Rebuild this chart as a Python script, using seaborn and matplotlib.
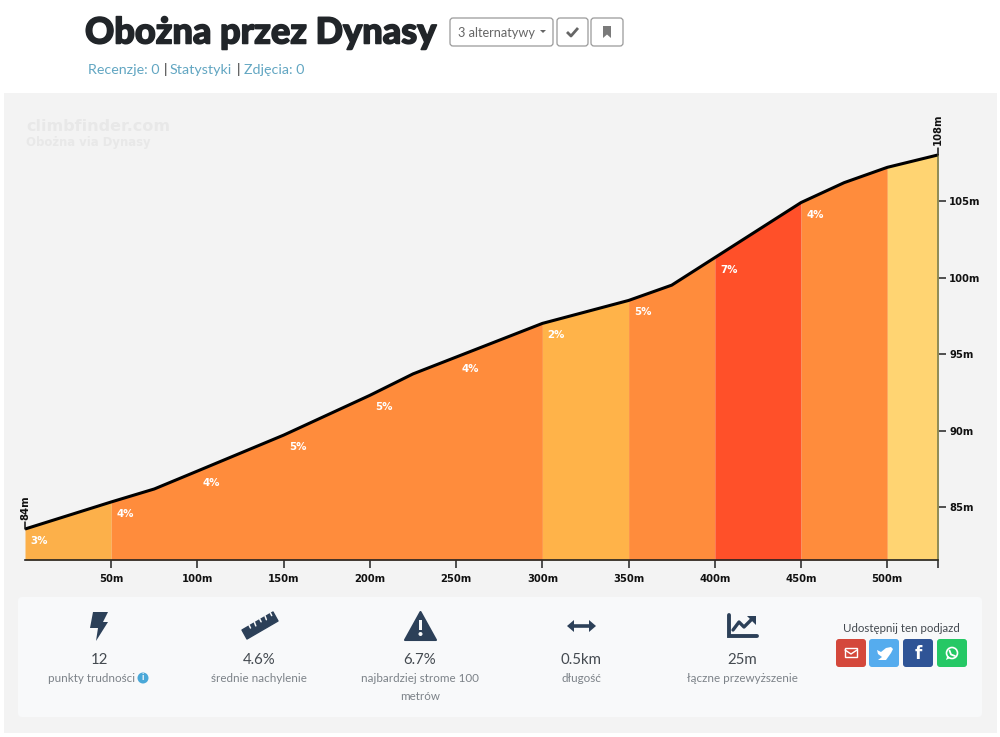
import matplotlib
matplotlib.use('Agg')
import matplotlib.pyplot as plt
import matplotlib.patheffects as pe
import numpy as np
import pandas as pd
import seaborn as sns
from matplotlib.patches import Circle, FancyBboxPatch, Polygon, Rectangle

# Profil podjazdu
distance = [0, 50, 75, 100, 150, 200, 225, 250, 300, 350, 375, 400, 450, 475, 500, 529]
elevation = [83.56, 85.33, 86.18, 87.35, 89.7, 92.3, 93.7, 94.8, 97.0, 98.5, 99.5, 101.3,
             104.9, 106.2, 107.2, 108.0]

seg_start = [0, 50, 300, 350, 400, 450, 500]
seg_end = [50, 300, 350, 400, 450, 500, 529]
seg_colors = ['#fcb04a', '#ff8c3c', '#ffb349', '#ff8c3c', '#ff5029', '#ff8c3c', '#ffd472']

grade_at = [0, 50, 100, 150, 200, 250, 300, 350, 400, 450]
grade_labels = ['3%', '4%', '4%', '5%', '5%', '4%', '2%', '5%', '7%', '4%']

x_ticks = [50, 100, 150, 200, 250, 300, 350, 400, 450, 500]
y_ticks = [85, 90, 95, 100, 105]

stat_values = ['12', '4.6%', '6.7%', '0.5km', '25m']
stat_names = ['punkty trudności', 'średnie nachylenie', 'najbardziej strome 100', 'długość', 'łączne przewyższenie']
stat_centers = [99, 259, 420, 581, 742]

sns.set_theme(style='white')
plt.rcParams['font.family'] = ['Lato', 'DejaVu Sans']

W, H = 1000, 737
fig = plt.figure(figsize=(10, 7.37), dpi=100, facecolor='white')

# Warstwa strony, w pikselach
bg = fig.add_axes([0, 0, 1, 1], zorder=0)
bg.set_xlim(0, W)
bg.set_ylim(H, 0)
bg.axis('off')
bg.add_patch(Rectangle((4, 93), 993, 640, fc='#f3f3f3', ec='none'))
bg.add_patch(FancyBboxPatch((18, 597), 964, 120, boxstyle='round,pad=0,rounding_size=4', fc='#f8f9fa', ec='none'))

# Wykres
x0, x1, y_bottom, y_top = 25, 938, 560, 110
ax = fig.add_axes([x0 / W, 1 - y_bottom / H, (x1 - x0) / W, (y_bottom - y_top) / H], zorder=1)
ax.patch.set_alpha(0)
ax.set_xlim(0, 529.4)
ax.set_ylim(85 - (y_bottom - 507) / 15.3, 85 + (507 - y_top) / 15.3)

dt = pd.DataFrame({'distance': distance, 'elevation': elevation})
for start, end, cor in zip(seg_start, seg_end, seg_colors):
    part = dt[(dt.distance >= start) & (dt.distance <= end)]
    ax.fill_between(part.distance, ax.get_ylim()[0], part.elevation, color=cor, lw=0, zorder=1)
sns.lineplot(data=dt, x='distance', y='elevation', color='black', lw=2.2, ax=ax, zorder=3,
             solid_capstyle='butt', errorbar=None)
ax.set_xlabel('')
ax.set_ylabel('')

for at, label in zip(grade_at, grade_labels):
    ax.annotate(label, (at, dt.elevation[dt.distance == at].iloc[0]), xytext=(14, -12),
                textcoords='offset pixels', color='white', fontsize=7.4, fontweight='bold',
                family=['DejaVu Sans'], ha='center', va='center', zorder=4)

for side in ['top', 'left']:
    ax.spines[side].set_visible(False)
ax.spines['bottom'].set_color('#222222')
ax.spines['bottom'].set_linewidth(1.2)
ax.spines['right'].set_color('#8f8a55')
ax.spines['right'].set_linewidth(1.4)
ax.spines['right'].set_bounds(ax.get_ylim()[0], elevation[-1])

ax.set_xticks(x_ticks + [529.4])
ax.set_xticklabels([f'{v}m' for v in x_ticks] + [''])
ax.yaxis.tick_right()
ax.set_yticks(y_ticks)
ax.set_yticklabels([f'{v}m' for v in y_ticks])
ax.tick_params(axis='x', length=6, width=1.1, color='#222222', pad=4, bottom=True)
ax.tick_params(axis='y', length=5.5, width=1.1, color='#222222', pad=2.5, right=True)
for lab in ax.get_xticklabels() + ax.get_yticklabels():
    lab.set_family(['DejaVu Sans'])
    lab.set_fontweight('bold')
    lab.set_fontsize(7.2)
    lab.set_color('#111111')

# Wysokość startu i szczytu, pionowo
ax.annotate('84m', (0, elevation[0]), xytext=(0, 9), textcoords='offset pixels', rotation=90,
            ha='center', va='bottom', fontsize=7.2, fontweight='bold', family=['DejaVu Sans'], color='#111111')
ax.annotate('108m', (529.4, elevation[-1]), xytext=(0, 10), textcoords='offset pixels', rotation=90,
            ha='center', va='bottom', fontsize=7.2, fontweight='bold', family=['DejaVu Sans'], color='#111111',
            annotation_clip=False)
ax.plot([0, 0], [elevation[0], elevation[0] + 0.45], color='#111111', lw=1.1, clip_on=False, zorder=4)
ax.plot([529.4, 529.4], [elevation[-1], elevation[-1] + 0.45], color='#111111', lw=1.1, clip_on=False, zorder=4)

# Warstwa tekstów strony
ui = fig.add_axes([0, 0, 1, 1], zorder=2)
ui.set_xlim(0, W)
ui.set_ylim(H, 0)
ui.axis('off')
ui.patch.set_alpha(0)

ui.text(85, 33, 'Obożna przez Dynasy', fontsize=26, fontweight='black', family=['Lato', 'DejaVu Sans'],
        color='#212529', va='center', ha='left',
        path_effects=[pe.withStroke(linewidth=1.1, foreground='#212529')])

for bx, bw in [(450, 103), (557, 31), (591, 32)]:
    ui.add_patch(FancyBboxPatch((bx, 18), bw, 28, boxstyle='round,pad=0,rounding_size=3', fc='white', ec='#9a9a9a', lw=0.9))
ui.text(458, 32.5, '3 alternatywy', fontsize=9.2, color='#666666', va='center')
ui.add_patch(Polygon([(540, 30), (546, 30), (543, 33)], fc='#666666', ec='none'))
ui.plot([567, 571, 578], [32, 36, 28], color='#666666', lw=2, solid_capstyle='butt')
ui.add_patch(Polygon([(603, 26), (611, 26), (611, 38), (607, 34.5), (603, 38)], fc='#7a7a7a', ec='none'))

link = '#62a6c2'
for tx, txt, cor in [(88, 'Recenzje: 0', link), (164, '|', '#333333'), (170, 'Statystyki', link),
                     (237, '|', '#333333'), (244, 'Zdjęcia: 0', link)]:
    ui.text(tx, 69.5, txt, fontsize=10.3, color=cor, va='center', ha='left')

ui.text(26, 126, 'climbfinder.com', fontsize=11.5, fontweight='bold', family=['DejaVu Sans'], color='#e8e8e8', va='center')
ui.text(26, 142, 'Obożna via Dynasy', fontsize=8.4, fontweight='bold', family=['DejaVu Sans'], color='#e8e8e8', va='center')

# Kafelki ze statystykami
for cx, val, name in zip(stat_centers, stat_values, stat_names):
    ui.text(cx, 660.5, val, fontsize=10.8, color='#444a50', ha='center', va='center')
    ui.text(cx - 7 if name.startswith('punkty') else cx, 678, name, fontsize=8.4, color='#7c8288', ha='center', va='center')
ui.text(420, 696, 'metrów', fontsize=8.4, color='#7c8288', ha='center', va='center')
ui.add_patch(Circle((143, 678), 5.5, fc='#4aa8d8', ec='none'))
ui.text(143, 678, 'i', fontsize=6.5, fontweight='bold', color='white', ha='center', va='center')

icon = '#2c4058'
# piorun
ui.add_patch(Polygon([(93, 612), (108, 612), (103, 622), (108, 622), (96, 641), (98, 628), (90, 628)], fc=icon, ec='none'))
# linijka
ui.add_patch(Polygon([(242, 630), (273, 612), (278, 621), (247, 639)], fc=icon, ec=icon, lw=1, joinstyle='round'))
for i in range(5):
    px = 249 + i * 5.3
    py = 625 - i * 3.1
    ui.plot([px, px + 1.5], [py, py + 3 + (i % 2)], color='#f8f9fa', lw=1.1)
# trójkąt
ui.add_patch(Polygon([(420.5, 612), (436, 640), (405, 640)], fc=icon, ec=icon, lw=1.5, joinstyle='round'))
ui.add_patch(Rectangle((418.8, 620), 3.4, 10, fc='#f8f9fa', ec='none'))
ui.add_patch(Circle((420.5, 634), 2, fc='#f8f9fa', ec='none'))
# strzałka
ui.plot([572, 591], [626, 626], color=icon, lw=2.6, solid_capstyle='butt')
ui.add_patch(Polygon([(567, 626), (574, 620), (574, 632)], fc=icon, ec='none'))
ui.add_patch(Polygon([(596, 626), (589, 620), (589, 632)], fc=icon, ec='none'))
# wykres
ui.plot([729, 729, 757], [615, 636, 636], color=icon, lw=2.8, solid_joinstyle='miter')
ui.plot([733, 739, 744, 752], [630, 622, 627, 619], color=icon, lw=2.4)
ui.add_patch(Polygon([(747, 616), (756, 616), (756, 625)], fc=icon, ec='none'))

# Przyciski udostępniania
ui.text(901, 628, 'Udostępnij ten podjazd', fontsize=8.3, color='#444a50', ha='center', va='center')
for bx, cor in [(836, '#d4483b'), (869, '#55acee'), (903, '#2f5496'), (937, '#25c865')]:
    ui.add_patch(FancyBboxPatch((bx, 639), 30, 28, boxstyle='round,pad=0,rounding_size=3', fc=cor, ec='none'))
ui.add_patch(Rectangle((845, 648), 12, 9, fc='none', ec='white', lw=1))
ui.plot([845, 851, 857], [650, 654, 650], color='white', lw=1)
ui.add_patch(Polygon([(877, 650), (881, 652), (886, 648), (891, 647), (893, 649), (891, 653), (886, 660), (878, 660),
                      (882, 657), (878, 654)], fc='white', ec='none'))
ui.text(918, 654, 'f', fontsize=12, fontweight='bold', family=['DejaVu Sans'], color='white', ha='center', va='center')
ui.add_patch(Circle((952, 653), 5.5, fc='none', ec='white', lw=1.2))
ui.add_patch(Polygon([(946, 660), (947.5, 655.5), (950, 658)], fc='white', ec='none'))
ui.plot([949.5, 951, 955], [650.5, 654.5, 656], color='white', lw=1.3)

fig.savefig('out.png', dpi=100)
plt.close(fig)
